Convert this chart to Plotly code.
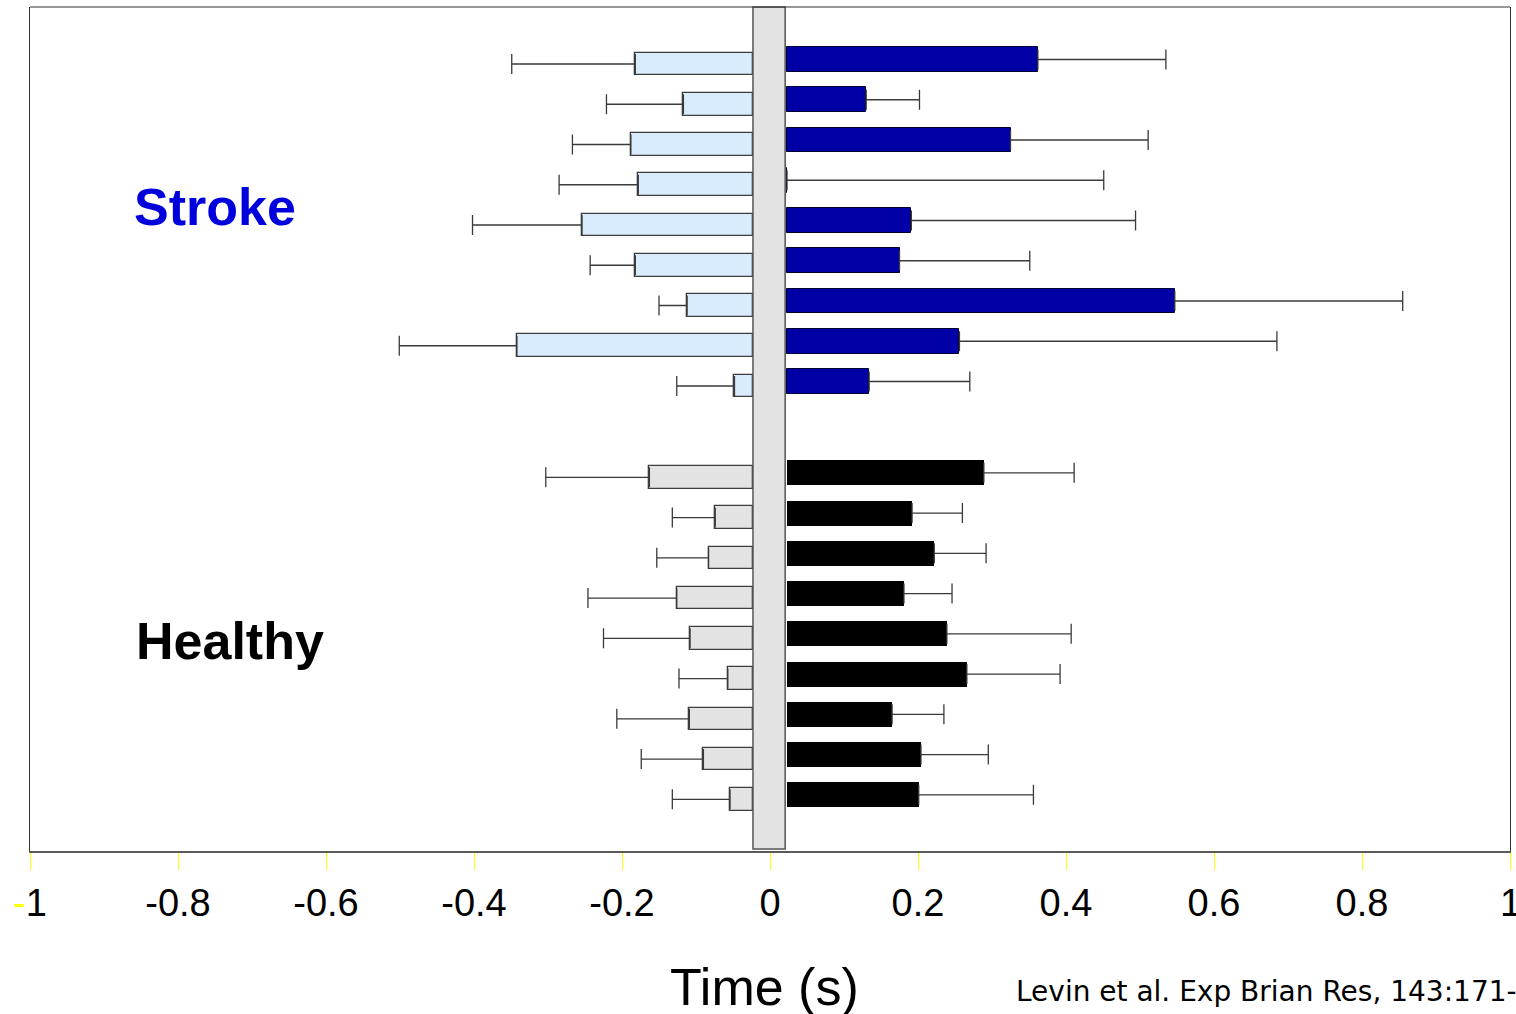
import plotly.graph_objects as go

# ---- data (seconds) ----
stroke_left_end = [-0.182, -0.117, -0.188, -0.178, -0.254, -0.182, -0.112, -0.342, -0.048]
stroke_left_err = [-0.349, -0.221, -0.267, -0.285, -0.402, -0.243, -0.150, -0.501, -0.126]
stroke_right_end = [0.362, 0.130, 0.325, 0.023, 0.191, 0.175, 0.547, 0.256, 0.134]
stroke_right_err = [0.535, 0.202, 0.511, 0.451, 0.494, 0.351, 0.855, 0.685, 0.270]

healthy_left_end = [-0.163, -0.074, -0.083, -0.126, -0.108, -0.057, -0.109, -0.090, -0.054]
healthy_left_err = [-0.303, -0.132, -0.153, -0.246, -0.225, -0.123, -0.207, -0.174, -0.132]
healthy_right_end = [0.289, 0.192, 0.222, 0.181, 0.239, 0.266, 0.165, 0.204, 0.201]
healthy_right_err = [0.411, 0.260, 0.292, 0.246, 0.407, 0.392, 0.235, 0.295, 0.356]

tick_vals = [-1, -0.8, -0.6, -0.4, -0.2, 0, 0.2, 0.4, 0.6, 0.8, 1]
tick_text = ['<span style="color:#ffff00">-</span>1', '-0.8', '-0.6', '-0.4', '-0.2',
             '0', '0.2', '0.4', '0.6', '0.8', '']
edge_tick_label = '1'   # the last label sits on the figure edge; drawn as annotation

GAP_L = -0.023   # left edge of the central band
GAP_R = 0.0205   # right edge of the central band
BASE_R = 0.023   # where right bars start
GROUP_GAP = 2.27

n = len(stroke_left_end)
stroke_pos = [i for i in range(n)]
healthy_pos = [n - 1 + GROUP_GAP + j for j in range(n)]
SHIFT = 0.056

fig = go.Figure()

def add_side(pos, ends, errs, base, fill, line, lw, width, shift, left):
    y = [p + shift for p in pos]
    fig.add_trace(go.Bar(
        orientation='h', y=y, x=[e - base for e in ends], base=base, width=width,
        marker=dict(color=fill, line=dict(color=line, width=lw)), showlegend=False))
    if left:
        ex = dict(type='data', symmetric=False, array=[0] * len(ends),
                  arrayminus=[e - r for e, r in zip(ends, errs)])
    else:
        ex = dict(type='data', symmetric=False, arrayminus=[0] * len(ends),
                  array=[r - e for e, r in zip(ends, errs)])
    ex.update(color='#3a3a3a', thickness=1.3, width=10)
    fig.add_trace(go.Scatter(x=ends, y=y, mode='markers', marker=dict(size=1, opacity=0),
                             error_x=ex, showlegend=False, hoverinfo='skip'))

add_side(stroke_pos, stroke_left_end, stroke_left_err, GAP_L, '#d9ecfd', '#3c3c3c', 1.3, 0.56, SHIFT, True)
add_side(stroke_pos, stroke_right_end, stroke_right_err, BASE_R, '#0000a6', '#000033', 1, 0.62, -SHIFT, False)
add_side(healthy_pos, healthy_left_end, healthy_left_err, GAP_L, '#e3e3e3', '#3c3c3c', 1.3, 0.56, SHIFT, True)
add_side(healthy_pos, healthy_right_end, healthy_right_err, BASE_R, '#000000', '#000000', 0, 0.62, -SHIFT, False)

# central grey band
fig.add_shape(type='rect', xref='x', yref='paper', x0=GAP_L, x1=GAP_R, y0=0.0024, y1=1,
              fillcolor='#e3e3e3', line=dict(color='#555555', width=1.5), layer='above')
# top frame line
fig.add_shape(type='line', xref='paper', yref='paper', x0=0, x1=1, y0=1, y1=1,
              line=dict(color='#333333', width=1))

FONT = 'Liberation Sans, Arial, sans-serif'
fig.add_annotation(x=0.125, y=0.763, xref='paper', yref='paper', text='<b>Stroke</b>',
                   xanchor='center', yanchor='middle',
                   showarrow=False, font=dict(family=FONT, size=52, color='#0000dd'))
fig.add_annotation(x=0.1351, y=0.2488, xref='paper', yref='paper', text='<b>Healthy</b>',
                   xanchor='center', yanchor='middle',
                   showarrow=False, font=dict(family=FONT, size=52, color='#000000'))
fig.add_annotation(x=0.4966, y=-0.161, xref='paper', yref='paper', text='Time (s)',
                   xanchor='center', yanchor='middle',
                   showarrow=False, font=dict(family=FONT, size=52, color='#000000'))
fig.add_annotation(x=0.6648, y=-0.167, xref='paper', yref='paper', xanchor='left',
                   yanchor='middle', text='Levin et al. Exp Brian Res, 143:171-',
                   showarrow=False,
                   font=dict(family='DejaVu Sans, Tahoma, sans-serif', size=28, color='#000000'))
fig.add_annotation(x=tick_vals[-1], y=-0.0616, xref='x', yref='paper', text=edge_tick_label,
                   xanchor='center', yanchor='middle', showarrow=False,
                   font=dict(family=FONT, size=38, color='#000000'))

top_row = -1.360
bottom_row = 19.609
fig.update_layout(
    width=1516, height=1014,
    margin=dict(l=30, r=6, t=7, b=163),
    plot_bgcolor='white', paper_bgcolor='white',
    barmode='overlay', bargap=0,
    xaxis=dict(range=[-1, 1], tickvals=tick_vals, ticktext=tick_text,
               ticks='outside', ticklen=17, tickwidth=1, tickcolor='#ffff00',
               showgrid=False, zeroline=False, showline=True, linecolor='#5a5a5a',
               linewidth=2, mirror=False,
               tickfont=dict(family=FONT, size=38, color='#000000')),
    yaxis=dict(range=[bottom_row, top_row], showticklabels=False, ticks='',
               showgrid=False, zeroline=False, showline=True, mirror=True,
               linecolor='#333333', linewidth=1),
)

fig.write_html('out.html', config={'displayModeBar': False},
               post_script="document.body.style.margin='0';document.body.style.overflow='hidden';")
